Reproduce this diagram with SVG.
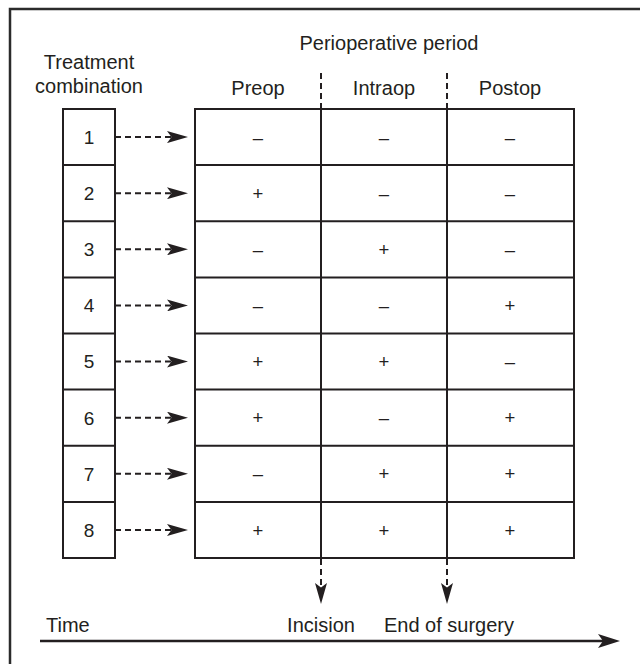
<svg xmlns="http://www.w3.org/2000/svg" width="640" height="664" viewBox="0 0 640 664">
<style>
  text { font-family: "Liberation Sans", Arial, sans-serif; fill: #231f20; }
  .lbl { font-size: 20px; text-anchor: middle; }
  .num { font-size: 19px; text-anchor: middle; }
  .sym { font-size: 18.5px; text-anchor: middle; }
  .box { fill: none; stroke: #231f20; stroke-width: 2; }
  .grid { stroke: #231f20; stroke-width: 2; fill: none; }
  .dash { stroke: #231f20; stroke-width: 2; stroke-dasharray: 6 4; fill: none; }
  .frame { stroke: #2b2b2b; stroke-width: 2.5; fill: none; }
</style>
<defs>
  <marker id="ah" viewBox="0 0 21 12" refX="4" refY="6" markerWidth="21" markerHeight="12" markerUnits="userSpaceOnUse" orient="auto">
    <path d="M0,0 L21,6 L0,12 L4.5,6 Z" fill="#231f20"/>
  </marker>
  <marker id="ahTime" viewBox="0 0 22 14" refX="5" refY="7" markerWidth="22" markerHeight="14" markerUnits="userSpaceOnUse" orient="auto">
    <path d="M0,0 L22,7 L0,14 L5,7 Z" fill="#231f20"/>
  </marker>
</defs>

<g id="frame">
  <path class="frame" d="M10,664 L10,9 L640,9"/>
</g>

<g id="headers">
  <text class="lbl" x="89" y="69">Treatment</text>
  <text class="lbl" x="89" y="93">combination</text>
  <text class="lbl" x="389" y="50">Perioperative period</text>
  <text class="lbl" x="258" y="95">Preop</text>
  <text class="lbl" x="384" y="95">Intraop</text>
  <text class="lbl" x="510" y="95">Postop</text>
</g>

<g id="combinations">
  <rect class="box" x="63" y="109" width="52" height="449"/>
  <path class="grid" d="M63,165.1 H115 M63,221.3 H115 M63,277.4 H115 M63,333.5 H115 M63,389.6 H115 M63,445.8 H115 M63,501.9 H115"/>
  <text class="num" x="89" y="144">1</text>
  <text class="num" x="89" y="200">2</text>
  <text class="num" x="89" y="256">3</text>
  <text class="num" x="89" y="312">4</text>
  <text class="num" x="89" y="368">5</text>
  <text class="num" x="89" y="425">6</text>
  <text class="num" x="89" y="481">7</text>
  <text class="num" x="89" y="537">8</text>
</g>

<g id="table">
  <rect class="box" x="195" y="109" width="379" height="449"/>
  <path class="grid" d="M321,109 V558 M447,109 V558"/>
  <path class="grid" d="M195,165.1 H574 M195,221.3 H574 M195,277.4 H574 M195,333.5 H574 M195,389.6 H574 M195,445.8 H574 M195,501.9 H574"/>
  <text class="sym" x="258" y="143.5">–</text><text class="sym" x="384" y="143.5">–</text><text class="sym" x="510" y="143.5">–</text>
  <text class="sym" x="258" y="199.5">+</text><text class="sym" x="384" y="199.5">–</text><text class="sym" x="510" y="199.5">–</text>
  <text class="sym" x="258" y="255.5">–</text><text class="sym" x="384" y="255.5">+</text><text class="sym" x="510" y="255.5">–</text>
  <text class="sym" x="258" y="311.5">–</text><text class="sym" x="384" y="311.5">–</text><text class="sym" x="510" y="311.5">+</text>
  <text class="sym" x="258" y="367.5">+</text><text class="sym" x="384" y="367.5">+</text><text class="sym" x="510" y="367.5">–</text>
  <text class="sym" x="258" y="424">+</text><text class="sym" x="384" y="424">–</text><text class="sym" x="510" y="424">+</text>
  <text class="sym" x="258" y="480">–</text><text class="sym" x="384" y="480">+</text><text class="sym" x="510" y="480">+</text>
  <text class="sym" x="258" y="536.5">+</text><text class="sym" x="384" y="536.5">+</text><text class="sym" x="510" y="536.5">+</text>
</g>

<g id="connectors">
  <path class="dash" d="M115,137.1 H171" marker-end="url(#ah)"/>
  <path class="dash" d="M115,193.2 H171" marker-end="url(#ah)"/>
  <path class="dash" d="M115,249.3 H171" marker-end="url(#ah)"/>
  <path class="dash" d="M115,305.4 H171" marker-end="url(#ah)"/>
  <path class="dash" d="M115,361.6 H171" marker-end="url(#ah)"/>
  <path class="dash" d="M115,417.7 H171" marker-end="url(#ah)"/>
  <path class="dash" d="M115,473.8 H171" marker-end="url(#ah)"/>
  <path class="dash" d="M115,530 H171" marker-end="url(#ah)"/>
  <path class="dash" d="M321,73 V109 M447,73 V109"/>
  <path class="dash" d="M321,559 V587" marker-end="url(#ah)"/>
  <path class="dash" d="M447,559 V587" marker-end="url(#ah)"/>
  <path class="grid" style="stroke-width:2.5" d="M40,641 H603" marker-end="url(#ahTime)"/>
</g>

<g id="time-labels">
  <text class="lbl" x="46" y="632" style="text-anchor:start">Time</text>
  <text class="lbl" x="321" y="632">Incision</text>
  <text class="lbl" x="449" y="632">End of surgery</text>
</g>
</svg>
